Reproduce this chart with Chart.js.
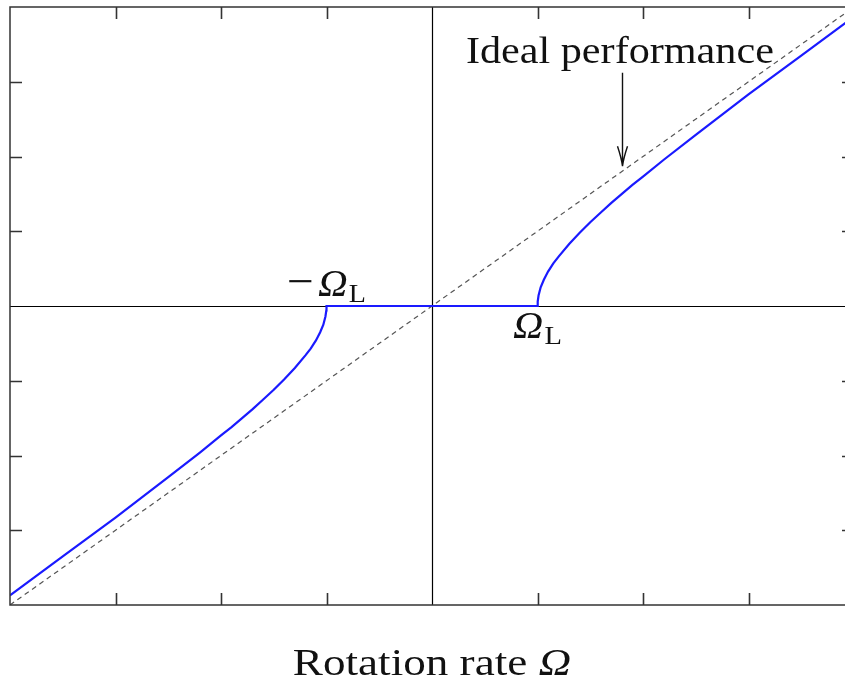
<!DOCTYPE html>
<html>
<head>
<meta charset="utf-8">
<script src="https://cdn.jsdelivr.net/npm/chart.js@4.4.1/dist/chart.umd.min.js"></script>
<style>
  html, body { margin: 0; padding: 0; background: #fff; overflow: hidden; width: 845px; height: 678px; }
  canvas { display: block; }
</style>
</head>
<body>
<canvas id="c" width="860" height="678"></canvas>
<script>
// Rotation rate Ω (in units of the lock-in rate ΩL) and measured beat output
const rateIn  = [-4, -3.5, -3, -2.5, -2.2, -2, -1.9, -1.8, -1.7, -1.6, -1.5, -1.4, -1.3, -1.2, -1.15, -1.1, -1.06, -1.03, -1.01, -1.002, -1,
                 0,
                 1, 1.002, 1.01, 1.03, 1.06, 1.1, 1.15, 1.2, 1.3, 1.4, 1.5, 1.6, 1.7, 1.8, 1.9, 2, 2.2, 2.5, 3, 3.5, 4];
const beatOut = [-3.87, -3.35, -2.83, -2.29, -1.96, -1.73, -1.62, -1.50, -1.38, -1.25, -1.12, -0.98, -0.83, -0.66, -0.57, -0.46, -0.35, -0.25, -0.14, -0.06, 0,
                 0,
                 0, 0.06, 0.14, 0.25, 0.35, 0.46, 0.57, 0.66, 0.83, 0.98, 1.12, 1.25, 1.38, 1.50, 1.62, 1.73, 1.96, 2.29, 2.83, 3.35, 3.87];

// Ideal response: output equals input
const idealIn  = [-4, 4];
const idealOut = [-4, 4];

// Tick positions on both axes
const xTicks = [-3, -2, -1, 1, 2, 3];
const yTicks = [-3, -2, -1, 1, 2, 3];

// Annotation anchors (data coordinates)
const lockIn = 1;
const arrowX = 1.8, arrowTop = 3.12, arrowTip = 1.87, captionY = 3.25;

const SERIF = '"Liberation Serif", "Times New Roman", serif';

function pairs(xs, ys) { return xs.map((x, i) => ({ x, y: ys[i] })); }

// Draw a run of text pieces (with optional vertical offset and horizontal stretch), centred at cx
function drawPieces(ctx, pieces, cx, baseline, stretch) {
  stretch = stretch || 1;
  let total = 0;
  pieces.forEach(p => { ctx.font = p.font; p.w = ctx.measureText(p.t).width; total += p.w + (p.gap || 0); });
  ctx.save();
  ctx.translate(cx, baseline);
  ctx.scale(stretch, 1);
  let x = -total / 2;
  ctx.fillStyle = '#111';
  ctx.textBaseline = 'alphabetic';
  ctx.textAlign = 'left';
  pieces.forEach(p => {
    x += (p.gap || 0);
    ctx.font = p.font;
    ctx.fillText(p.t, x, p.dy || 0);
    x += p.w;
  });
  ctx.restore();
}

const framePlugin = {
  id: 'frame',
  beforeDatasetsDraw(chart) {
    const { ctx, chartArea: a, scales: { x, y } } = chart;
    ctx.save();
    ctx.strokeStyle = '#000';
    ctx.lineWidth = 1.2;
    const x0 = Math.round(x.getPixelForValue(0)) + 0.5;
    const y0 = Math.round(y.getPixelForValue(0)) + 0.5;
    ctx.beginPath();
    ctx.moveTo(x0, a.top); ctx.lineTo(x0, a.bottom);
    ctx.moveTo(a.left, y0); ctx.lineTo(a.right, y0);
    ctx.stroke();
    ctx.restore();
  },
  afterDraw(chart) {
    const { ctx, chartArea: a, scales: { x, y } } = chart;
    ctx.save();
    ctx.strokeStyle = '#333';
    ctx.lineWidth = 1.5;
    ctx.strokeRect(a.left, a.top, a.right - a.left, a.bottom - a.top);

    // inward tick marks on all four sides
    const tl = 12;
    ctx.lineWidth = 1.6;
    ctx.beginPath();
    xTicks.forEach(v => {
      const px = Math.round(x.getPixelForValue(v)) + 0.5;
      ctx.moveTo(px, a.bottom); ctx.lineTo(px, a.bottom - tl);
      ctx.moveTo(px, a.top); ctx.lineTo(px, a.top + tl);
    });
    yTicks.forEach(v => {
      const py = Math.round(y.getPixelForValue(v)) + 0.5;
      ctx.moveTo(a.left, py); ctx.lineTo(a.left + tl, py);
      ctx.moveTo(a.right, py); ctx.lineTo(a.right - tl, py);
    });
    ctx.stroke();

    // arrow pointing at the ideal line
    const ax = Math.round(x.getPixelForValue(arrowX)) + 0.5;
    const ay0 = y.getPixelForValue(arrowTop);
    const ay1 = y.getPixelForValue(arrowTip);
    ctx.strokeStyle = '#111';
    ctx.lineWidth = 1.4;
    ctx.beginPath();
    ctx.moveTo(ax, ay0); ctx.lineTo(ax, ay1);
    ctx.moveTo(ax - 5, ay1 - 20); ctx.quadraticCurveTo(ax - 1, ay1 - 8, ax, ay1);
    ctx.moveTo(ax + 5, ay1 - 20); ctx.quadraticCurveTo(ax + 1, ay1 - 8, ax, ay1);
    ctx.stroke();
    ctx.restore();

    // text
    drawPieces(ctx, [{ t: 'Ideal performance', font: '37px ' + SERIF }],
      x.getPixelForValue(arrowX) - 2, y.getPixelForValue(captionY), 1.14);

    drawPieces(ctx, [
      { t: '\u2212', font: '44px ' + SERIF },
      { t: '\u03A9', font: 'italic 38px ' + SERIF, gap: 4 },
      { t: 'L', font: '26px ' + SERIF, dy: 6, gap: 1 }
    ], x.getPixelForValue(-lockIn), y.getPixelForValue(0) - 10, 1.08);

    drawPieces(ctx, [
      { t: '\u03A9', font: 'italic 38px ' + SERIF },
      { t: 'L', font: '26px ' + SERIF, dy: 6, gap: 1 }
    ], x.getPixelForValue(lockIn), y.getPixelForValue(0) + 32, 1.1);

    drawPieces(ctx, [
      { t: 'Rotation rate ', font: '37px ' + SERIF },
      { t: '\u03A9', font: 'italic 37px ' + SERIF }
    ], x.getPixelForValue(0), 675, 1.22);
  }
};

new Chart(document.getElementById('c'), {
  type: 'line',
  data: {
    datasets: [
      {
        data: pairs(rateIn, beatOut),
        borderColor: '#1a1aff',
        borderWidth: 2.2,
        pointRadius: 0,
        tension: 0,
        fill: false
      },
      {
        data: pairs(idealIn, idealOut),
        borderColor: '#555',
        borderWidth: 1.2,
        borderDash: [5, 4],
        pointRadius: 0,
        tension: 0,
        fill: false
      }
    ]
  },
  options: {
    responsive: false,
    animation: false,
    layout: { padding: { left: 10, top: 7, right: 6, bottom: 73 } },
    plugins: { legend: { display: false }, tooltip: { enabled: false } },
    scales: {
      x: { type: 'linear', min: -4, max: 4, display: false },
      y: { type: 'linear', min: -4, max: 4, display: false }
    }
  },
  plugins: [framePlugin]
});
</script>
</body>
</html>
